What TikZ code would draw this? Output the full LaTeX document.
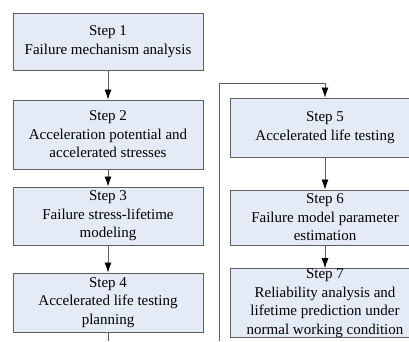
\documentclass[tikz,border=0pt]{standalone}
\usepackage{fontspec}
\setmainfont{Liberation Serif}
\usepackage{tikz}
\usetikzlibrary{positioning,arrows.meta}
\definecolor{boxfill}{RGB}{228,234,246}
\definecolor{boxline}{RGB}{95,95,95}
\tikzset{stepbox/.style={draw=boxline,line width=0.9pt,fill=boxfill,minimum width=190pt,inner sep=0pt,align=center,font=\fontsize{15}{18.5}\selectfont}}
\tikzset{flow/.style={draw=boxline,line width=0.8pt,-{Latex[length=10pt,width=7pt,color=black]}}}
\tikzset{plainline/.style={draw=boxline,line width=0.8pt}}

\begin{document}
\begin{tikzpicture}[x=1pt,y=-1pt]
	\useasboundingbox (0,0) rectangle (409,341);
	\clip (0,0) rectangle (409,341);

	%% Left column
	\node[stepbox,minimum height=57pt] (s1) at (108,41.5) {Step 1\\Failure mechanism analysis};
	\node[stepbox,minimum height=69pt] (s2) at (108,134.5) {Step 2\\Acceleration potential and\\accelerated stresses};
	\node[stepbox,minimum height=58pt] (s3) at (108,216) {Step 3\\Failure stress-lifetime\\modeling};
	\node[stepbox,minimum height=59pt] (s4) at (108,302.5) {Step 4\\Accelerated life testing\\planning};

	%% Right column
	\node[stepbox,minimum height=59pt] (s5) at (325,127.5) {Step 5\\Accelerated life testing};
	\node[stepbox,minimum height=55pt] (s6) at (325,217.5) {Step 6\\Failure model parameter\\estimation};
	\node[stepbox,minimum height=68pt] (s7) at (325,303) {Step 7\\Reliability analysis and\\lifetime prediction under\\normal working condition};

	% Connectors
	\draw[flow] (s1) -- (s2);
	\draw[flow] (s2) -- (s3);
	\draw[flow] (s3) -- (s4);
	\draw[flow] (s5) -- (s6);
	\draw[flow] (s6) -- (s7);

	% Loop from the bottom of step 4 over to step 5
	\coordinate (s4out) at (108,341);
	\coordinate (loopstart) at (219,341);
	\coordinate (looptop) at (219,83);
	\draw[plainline] (s4) -- (s4out);
	\draw[flow] (loopstart) -- (looptop) -| (s5.north);
\end{tikzpicture}
\end{document}
